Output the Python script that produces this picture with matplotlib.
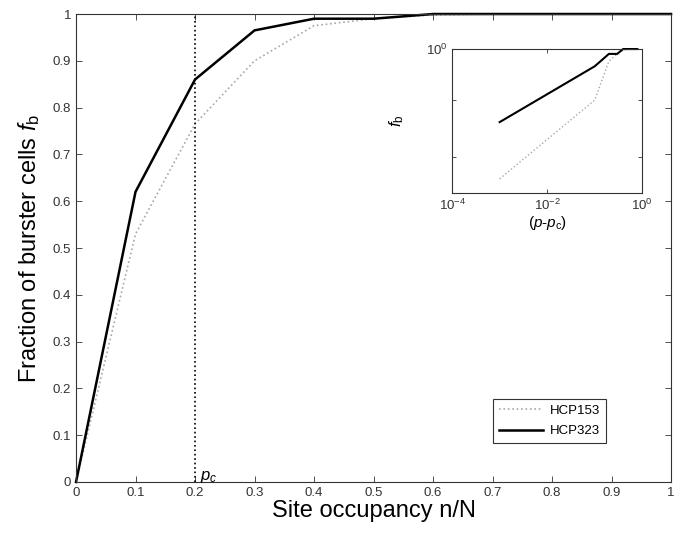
import matplotlib
matplotlib.use("Agg")
import matplotlib.pyplot as plt
from matplotlib.ticker import FixedLocator, NullFormatter, LogFormatterSciNotation

plt.rcParams['font.family'] = ['Liberation Sans', 'DejaVu Sans']
plt.rcParams['mathtext.fontset'] = 'custom'
plt.rcParams['mathtext.rm'] = 'Liberation Sans'
plt.rcParams['mathtext.it'] = 'Liberation Sans:italic'
plt.rcParams['xtick.direction'] = 'in'
plt.rcParams['ytick.direction'] = 'in'

# main data: site occupancy vs fraction of burster cells
occupancy = [0.0, 0.1, 0.2, 0.3, 0.4, 0.5, 0.6, 0.7, 0.8, 0.9, 1.0]
hcp153 = [0.0, 0.53, 0.765, 0.90, 0.975, 0.99, 0.998, 1.0, 1.0, 1.0, 1.0]
hcp323 = [0.0, 0.62, 0.86, 0.965, 0.99, 0.99, 1.0, 1.0, 1.0, 1.0, 1.0]
p_c = 0.2
p_c_fit = 0.199

fig = plt.figure(figsize=(6.75, 5.33), dpi=100)
ax = fig.add_axes([0.1126, 0.0957, 0.8815, 0.878])

ax.plot(occupancy, hcp153, color='#a8a8a8', linestyle=':', linewidth=1.2, label='HCP153', clip_on=False)
ax.plot(occupancy, hcp323, color='black', linewidth=1.8, label='HCP323', clip_on=False)
ax.axvline(p_c, color='black', linestyle=':', linewidth=1.2)
ax.text(p_c + 0.008, 0.004, r'$p_c$', fontsize=12)

ax.set_xlim(0, 1)
ax.set_ylim(0, 1)
ticks = [i / 10 for i in range(11)]
ax.set_xticks(ticks)
ax.set_yticks(ticks)
ax.set_xticklabels(['0'] + ['%.1f' % t for t in ticks[1:-1]] + ['1'])
ax.set_yticklabels(['0'] + ['%.1f' % t for t in ticks[1:-1]] + ['1'])
ax.tick_params(top=True, right=True, labelsize=9.5, length=4, width=0.6, colors='#333333')
for s in ax.spines.values():
    s.set_linewidth(0.8)
    s.set_color('#333333')
ax.set_xlabel('Site occupancy n/N', fontsize=17, labelpad=1)
ax.set_ylabel(r'Fraction of burster cells $f_{\rm b}$', fontsize=17, labelpad=8)

leg = ax.legend(loc='lower right', bbox_to_anchor=(0.891, 0.083), borderaxespad=0,
                fontsize=9.5, fancybox=False, edgecolor='#333333', framealpha=1,
                handlelength=3.4, handletextpad=0.5, borderpad=0.45, labelspacing=0.6)
leg.get_frame().set_linewidth(0.8)

# inset: log-log near threshold
ins = fig.add_axes([0.670, 0.638, 0.281, 0.270])
dp = [p - p_c_fit for p in occupancy[2:]]
ins.plot(dp, hcp153[2:], color='#a8a8a8', linestyle=':', linewidth=1.0, clip_on=False)
ins.plot(dp, hcp323[2:], color='black', linewidth=1.5, clip_on=False)
ins.set_xscale('log')
ins.set_yscale('log')
ins.set_xlim(1e-4, 1)
ins.set_ylim(0.743, 1.0)
ins.xaxis.set_major_locator(FixedLocator([1e-4, 1e-2, 1]))
ins.xaxis.set_minor_locator(FixedLocator([]))
ins.yaxis.set_major_locator(FixedLocator([1.0]))
ins.yaxis.set_major_formatter(LogFormatterSciNotation())
ins.yaxis.set_minor_locator(FixedLocator([0.8, 0.9]))
ins.yaxis.set_minor_formatter(NullFormatter())
ins.tick_params(which='both', top=True, right=True, labelsize=9.5, length=3, width=0.6, colors='#333333')
for s in ins.spines.values():
    s.set_linewidth(0.8)
    s.set_color('#333333')
ins.set_xlabel(r'$(p$-$p_{\rm c})$', fontsize=11, labelpad=1)
ins.set_ylabel(r'$f_{\rm b}$', fontsize=12, rotation=90, labelpad=14)

fig.savefig('out.png', dpi=100)
